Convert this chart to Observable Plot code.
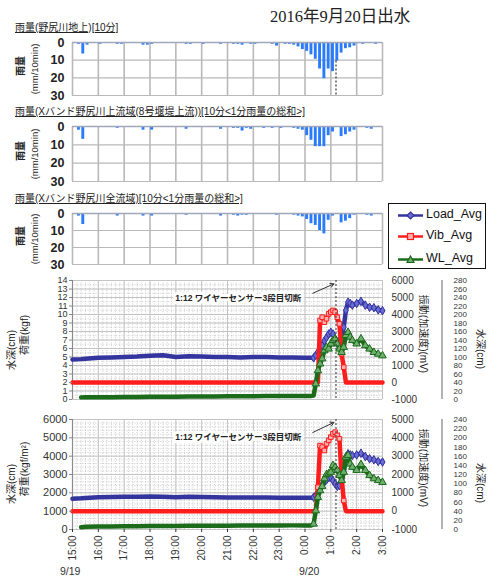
<!DOCTYPE html>
<html><head><meta charset="utf-8">
<script src="https://cdn.jsdelivr.net/npm/d3@7"></script>
<script src="https://cdn.jsdelivr.net/npm/@observablehq/plot@0.6"></script>
<style>
body{margin:0;background:#fff;}
#c{position:relative;width:497px;height:576px;overflow:hidden;background:#fff;font-family:"Liberation Sans","Noto Sans CJK JP",sans-serif;color:#222;}
.t{position:absolute;white-space:nowrap;line-height:1;}
.rl{position:absolute;white-space:nowrap;line-height:1;transform:translate(-50%,-50%) rotate(-90deg);}
.rr{position:absolute;white-space:nowrap;line-height:1;transform:translate(-50%,-50%) rotate(90deg);}
</style></head><body><div id="c"></div>
<script>
// ---------------- data ----------------
const mainTitle = "2016年9月20日出水";
const rainTitles = [
  "雨量(野尻川地上)[10分]",
  "雨量(Xバンド野尻川上流域(8号堰堤上流))[10分<1分雨量の総和>]",
  "雨量(Xバンド野尻川全流域)[10分<1分雨量の総和>]"
];
const rainAxisTitle = ["雨量", "(mm/10min)"];
const rainTicks = [0, 10, 20, 30];
// 10-minute rainfall, slots starting 15:00 (72 slots)
const rainGround = [
  0, 1, 6.5, 1.5, 0, 0, 1, 0, 0, 0, 1, 1,
  0, 0, 0, 0, 1.5, 1.5, 1, 0, 0, 0, 0, 0,
  0, 0, 1, 1, 0, 0, 1, 0, 0, 0, 1, 0,
  0, 1, 1, 1.5, 0, 1, 1, 0, 0, 0, 1, 2,
  0, 1, 1, 1.5, 2.5, 4, 5, 7, 9.5, 15, 20.5, 15,
  16.5, 10.5, 6, 3.5, 3, 2, 0, 1, 0, 0, 1, 0
];
const rainUpper = [
  0, 2, 7, 0.5, 0.5, 0.5, 0.5, 0.5, 0, 0, 1, 0,
  0.5, 0, 0, 0, 2, 0.5, 2, 0, 0, 0, 0.5, 0,
  0.5, 0, 1.5, 0.5, 0.5, 0.5, 0.5, 0.5, 0, 0, 1.5, 0.5,
  0.5, 1, 1, 2.5, 1, 1.5, 0.5, 0.5, 1, 0.5, 1, 0.5,
  1, 0.5, 0.5, 1, 1.5, 2, 5, 7.5, 11, 11, 11, 5,
  3, 0.5, 5.5, 4.5, 3, 2, 0.5, 0.5, 1, 1.5, 0.5, 0
];
const rainWhole = [
  0, 1.5, 6.5, 0.3, 0.3, 0.3, 0.3, 0, 0, 0, 1.5, 0,
  0, 0, 0, 0.5, 1.5, 0, 1.5, 0, 0.3, 0, 0, 0,
  0, 0, 1, 0.3, 0.3, 0.3, 0, 0, 0, 0, 1.5, 0.3,
  0.5, 1, 1.5, 1, 1, 0.5, 0.5, 0.5, 0.5, 0.5, 0.5, 1,
  0.5, 0.5, 0.5, 1, 1.5, 2, 3.5, 6, 7, 10, 12, 4,
  1.5, 0.5, 5.5, 4.5, 3, 1, 0.5, 0.5, 1, 1.5, 0.5, 0
];

const hourLabels = ["15:00","16:00","17:00","18:00","19:00","20:00","21:00","22:00","23:00","0:00","1:00","2:00","3:00"];
const dateLabels = ["9/19", "9/20"];
const times = ["15:00","15:20","15:30","16:00","16:30","17:00","17:30","18:00","18:30","19:00","19:30","20:00","20:30","21:00","21:30","22:00","22:30","23:00","23:30","0:00","0:15",
  "0:20","0:25","0:30","0:35","0:40","0:45","0:50","0:55","1:00","1:05","1:10","1:15","1:20","1:25","1:30","1:35","1:40","1:45","1:50",
  "2:00","2:10","2:20","2:30","2:40","2:50","3:00"];

// panel A: load (kgf), vibration (mV), water level (cm)
const loadA = [4.7, 4.75, 4.8, 4.9, 4.95, 5.0, 5.05, 5.15, 5.2, 5.0, 5.1, 5.05, 5.0, 5.0, 4.95, 5.0, 5.0, 4.95, 4.95, 4.9, 4.9,
  4.9, 5.2, 5.6, 5.8, 6.35, 6.9, 7.3, 7.7, 7.9, 7.7, 7.1, 6.75, 6.9, 7.3, 8.5, 10.5, 11.45, 11.3, 11.1,
  11.3, 11.55, 11.1, 10.85, 10.8, 10.55, 10.45];
const vibA = [0,0,0,0,0,0,0,0,0,0,0,0,0,0,0,0,0,0,0,0,0,
  0, 0, 0, 3650, 3840, 3550, 3750, 4040, 4140, 4240, 4140, 3840, 3450, 1690, 900, 0, 0, 0, 0,
  0,0,0,0,0,0,0];
const wlA = [null, 5, 5.5, 5.5, 5.5, 6, 6, 6.5, 6.5, 6.5, 7, 7, 7, 7.5, 7.5, 7.5, 8, 8, 8, 8, 8.5,
  9.4, 37, 68, 84, 96, 115, 123, 119, 131, 139, 143, 131, 119, 111, 123, 151, 158, 147, 139,
  131, 143, 127, 119, 111, 107, 103];
// panel B: load (kgf/m2), vibration (mV), water level (cm)
const loadB = [1675, 1700, 1720, 1760, 1770, 1780, 1790, 1800, 1790, 1760, 1780, 1770, 1760, 1750, 1750, 1740, 1740, 1730, 1730, 1730, 1730,
  1760, 1850, 2030, 2220, 2450, 2580, 2710, 2820, 2850, 2670, 2490, 2350, 2400, 2580, 3130, 3950, 4130, 4070, 4040,
  4070, 4160, 3980, 3860, 3800, 3710, 3680];
const vibB = [0,0,0,0,0,0,0,0,0,0,0,0,0,0,0,0,0,0,0,0,0,
  0, 0, 1310, 3580, 3490, 3310, 3680, 3860, 4040, 4220, 4310, 4130, 3950, 1850, 580, 0, 0, 0, 0,
  0,0,0,0,0,0,0];
const wlB = [null, 5, 6, 6.5, 6.5, 7, 7, 7.5, 7.5, 7.5, 8, 8, 8, 8, 8.5, 8.5, 8.5, 8.5, 9, 9, 9,
  12, 41, 70, 85, 94, 111, 120, 122, 125, 140, 136, 129, 118, 107, 125, 158, 162, 143, 136,
  129, 142, 129, 118, 111, 107, 103];

const leftTicksA = d3.range(0, 15, 1);
const mvTicksA = [-1000, 0, 1000, 2000, 3000, 4000, 5000, 6000];
const cmTicksA = d3.range(0, 281, 20);
const leftTicksB = [0, 1000, 2000, 3000, 4000, 5000, 6000];
const mvTicksB = [-1000, 0, 1000, 2000, 3000, 4000, 5000];
const cmTicksB = d3.range(0, 241, 20);

const seriesNames = ["Load_Avg", "Vib_Avg", "WL_Avg"];
const cutTime = "1:12";
const cutNote = "1:12 ワイヤーセンサー3段目切断";
const noteTime = "21:25";
const noteYA = 11.9, noteYB = 5020;
const arrowTimes = ["0:18", "1:07"];
const arrowYA = [12.5, 13.6], arrowYB = [5290, 5840];
const eventStart = "0:20";
const axisTitlesA = ["水深(cm)", "荷重(kgf)", "振動(加速度)(mV)", "水深(cm)"];
const axisTitlesB = ["水深(cm)", "荷重(kgf/m²)", "振動(加速度)(mV)", "水深(cm)"];

// ---------------- helpers ----------------
const FONT = '"Liberation Sans","Noto Sans CJK JP",sans-serif';
const BLUE = "#34349e", RED = "#ff1c1c", GREEN = "#1b6b1b";
const T = s => { const [h, m] = s.split(":").map(Number); return new Date(Date.UTC(2016, 8, h >= 15 ? 19 : 20, h, m)); };
const hourDates = hourLabels.map(T);
const T0 = hourDates[0], T3 = hourDates[hourDates.length - 1];
const tenMin = d3.utcMinute.every(10).range(T0, T3);
const cut = T(cutTime);
const evT = T(eventStart);
const W = 497, ML = 72, MR = 115;
const C = document.getElementById("c");

function txt(cls, s, x, y, style) {
  const d = document.createElement("div");
  d.className = cls; d.textContent = s;
  d.style.left = x + "px"; d.style.top = y + "px";
  Object.assign(d.style, style || {});
  C.appendChild(d); return d;
}
function put(svg, top) {
  svg.style.position = "absolute"; svg.style.left = "0px"; svg.style.top = top + "px";
  C.appendChild(svg);
}

// ---------------- titles ----------------
txt("t", mainTitle, 270, 9, {fontFamily: '"Liberation Serif","DejaVu Serif","Noto Sans CJK JP",serif', fontSize: "16.5px", color: "#222"});

// ---------------- rain panels ----------------
function rainPanel(values, title, top, h, withCut) {
  const rows = values.map((v, i) => ({a: new Date(+T0 + i * 6e5), b: new Date(+T0 + (i + 1) * 6e5), v}));
  const marks = [
    Plot.ruleY(rainTicks.slice(1), {stroke: "#b9b9b9", strokeWidth: 1.2}),
    Plot.ruleX(hourDates, {stroke: "#b9b9b9", strokeWidth: 1.6}),
    Plot.rectY(rows.filter(d => d.v > 0), {x1: "a", x2: "b", y: "v", fill: "#2a7bff", insetLeft: 0.7, insetRight: 0.7}),
    Plot.ruleY([0], {stroke: "#9fa8bb", strokeWidth: 1.5}),
    Plot.axisY({ticks: rainTicks, tickSize: 0, tickPadding: 8, fontSize: 12.5, fontWeight: "bold", label: null})
  ];
  if (withCut) {
    const idx = Math.floor((cut - T0) / 6e5);
    marks.push(Plot.ruleX([cut], {y1: values[idx], y2: rainTicks[rainTicks.length - 1], stroke: "#333", strokeDasharray: "2,2", strokeWidth: 1.2}));
  }
  const svg = Plot.plot({
    width: W, height: h + 14, marginTop: 7, marginBottom: 7, marginLeft: ML, marginRight: MR,
    style: {background: "transparent", fontFamily: FONT, color: "#222", overflow: "visible"},
    x: {type: "utc", domain: [T0, T3], axis: null},
    y: {domain: [0, 30], reverse: true, axis: null},
    marks
  });
  put(svg, top - 7);
  txt("t", title, 15, top - 19, {fontSize: "10px", textDecoration: "underline", color: "#222"});
  const cy = top + h / 2;
  txt("rl", rainAxisTitle[0], 21, cy - 3, {fontSize: "10px", fontWeight: "bold"});
  txt("rl", rainAxisTitle[1], 35, cy, {fontSize: "9.5px"});
}
rainPanel(rainGround, rainTitles[0], 42, 53, true);
rainPanel(rainUpper, rainTitles[1], 126, 55, false);
rainPanel(rainWhole, rainTitles[2], 213, 51, false);

// ---------------- legend ----------------
(function legend() {
  const box = document.createElement("div");
  Object.assign(box.style, {position: "absolute", left: "388px", top: "203px", width: "96px", height: "64px", border: "1.6px solid #111", background: "#fff"});
  C.appendChild(box);
  const cols = [BLUE, RED, GREEN];
  const fills = ["#6b6bd6", "#ffb0b0", "#6fae6f"];
  const ys = [11, 32, 55];
  const shapes = [
    (c, f) => `<polygon points="12.5,2 16,5.5 12.5,9 9,5.5" fill="${f}" stroke="${c}" stroke-width="1.2"/>`,
    (c, f) => `<rect x="9.5" y="2.5" width="6" height="6" fill="${f}" stroke="${c}" stroke-width="1.2"/>`,
    (c, f) => `<polygon points="12.5,2 16,8.5 9,8.5" fill="${f}" stroke="${c}" stroke-width="1.2"/>`
  ];
  seriesNames.forEach((n, i) => {
    const s = document.createElementNS("http://www.w3.org/2000/svg", "svg");
    s.setAttribute("width", 26); s.setAttribute("height", 11);
    s.innerHTML = `<line x1="0" x2="25" y1="5.5" y2="5.5" stroke="${cols[i]}" stroke-width="2.5"/>` + shapes[i](cols[i], fills[i]);
    Object.assign(s.style, {position: "absolute", left: "9px", top: (ys[i] - 5.5) + "px"});
    box.appendChild(s);
    const t = document.createElement("div");
    t.textContent = n;
    Object.assign(t.style, {position: "absolute", left: "37px", top: (ys[i] - 7) + "px", fontSize: "12.5px", lineHeight: "1", whiteSpace: "nowrap", color: "#111"});
    box.appendChild(t);
  });
})();

// ---------------- measurement panels ----------------
function measurePanel(o) {
  const rows = times.map((s, i) => ({t: T(s), load: o.load[i], vib: o.vib[i], wl: o.wl[i]}));
  const ev = rows.filter(d => d.t >= evT);
  const yLoad = d => d.load, yVib = d => o.vibToY(d.vib), yWl = d => d.wl == null ? NaN : o.cmToY(d.wl);
  const minor = d3.range(o.yDomain[0], o.yDomain[1] + 1e-9, o.minorStep);
  const marks = [
    Plot.ruleY(minor, {stroke: "#bdbdbd", strokeDasharray: "1,1.6", strokeWidth: 0.8}),
    Plot.ruleX(tenMin, {stroke: "#bdbdbd", strokeDasharray: "1,1.6", strokeWidth: 0.8}),
    Plot.ruleY(o.leftTicks, {stroke: "#c4c4c4", strokeWidth: 1}),
    Plot.ruleX(hourDates, {stroke: "#c4c4c4", strokeWidth: 1}),
    Plot.ruleX([T0], {stroke: "#8a8a8a", strokeWidth: 1.2}),
    Plot.line(rows, {x: "t", y: yLoad, stroke: BLUE, strokeWidth: 4.5}),
    Plot.dot(ev, {x: "t", y: yLoad, symbol: "diamond", r: 2.6, stroke: BLUE, fill: "#6b6bd6", strokeWidth: 1}),
    Plot.line(rows, {x: "t", y: yVib, stroke: RED, strokeWidth: 4.5}),
    Plot.dot(ev.filter(d => d.vib > 0), {x: "t", y: yVib, symbol: "square", r: 2.6, stroke: RED, fill: "#ffb0b0", strokeWidth: 1}),
    Plot.line(rows, {x: "t", y: yWl, stroke: GREEN, strokeWidth: 4.5}),
    Plot.dot(ev.filter(d => d.wl > 10), {x: "t", y: yWl, symbol: "triangle", r: 2.8, stroke: GREEN, fill: "#6fae6f", strokeWidth: 1}),
    Plot.ruleX([cut], {stroke: "#333", strokeDasharray: "2,2", strokeWidth: 1}),
    Plot.arrow([0], {x1: () => T(arrowTimes[0]), y1: () => o.arrowY[0], x2: () => T(arrowTimes[1]), y2: () => o.arrowY[1], stroke: "#333", strokeWidth: 1, headLength: 6}),
    Plot.text([cutNote], {x: () => T(noteTime), y: () => o.noteY, text: d => d, fontSize: 8.5, fontWeight: "bold", fill: "#222", stroke: "white", strokeWidth: 6}),
    Plot.axisY({ticks: o.leftTicks, tickFormat: d => String(d), tickSize: 3, tickPadding: 2, fontSize: o.leftFont, label: null, stroke: "#888"}),
    Plot.text(o.mvTicks, {y: d => o.vibToY(d), text: d => String(d), frameAnchor: "right", dx: 9, textAnchor: "start", fontSize: 10, fill: "#333"}),
    Plot.text(o.cmTicks, {y: d => o.cmToY(d), text: d => String(d), frameAnchor: "right", dx: 71, textAnchor: "start", fontSize: 8, fill: "#333"})
  ];
  if (o.xAxis) {
    marks.push(Plot.axisX({ticks: hourDates, tickFormat: d => `${d.getUTCHours()}:00`, tickRotate: -90, tickSize: 3, tickPadding: 3, fontSize: 10, label: null}));
  }
  const svg = Plot.plot({
    width: W, height: o.h + 8 + o.mb, marginTop: 8, marginBottom: o.mb, marginLeft: ML, marginRight: MR,
    style: {background: "transparent", fontFamily: FONT, color: "#333", overflow: "visible"},
    x: {type: "utc", domain: [T0, T3], axis: null},
    y: {domain: o.yDomain, axis: null},
    marks
  });
  d3.select(svg).append("line")
    .attr("x1", W - MR + 60).attr("x2", W - MR + 60)
    .attr("y1", 8).attr("y2", 8 + o.h)
    .attr("stroke", "#9a9a9a").attr("stroke-width", 1.5);
  put(svg, o.top - 8);
  const cy = o.top + o.h / 2;
  txt("rl", o.titles[0], 12, cy + 10, {fontSize: "10px"});
  txt("rl", o.titles[1], 25, cy - 5, {fontSize: "10px"});
  txt("rr", o.titles[2], 423, cy - 6, {fontSize: "10px"});
  txt("rr", o.titles[3], 480, cy + 9, {fontSize: "10px"});
}

measurePanel({top: 280, h: 119, mb: 8, yDomain: [0, 14], minorStep: 0.5, leftTicks: leftTicksA, leftFont: 9,
  load: loadA, vib: vibA, wl: wlA, vibToY: v => v / 500 + 2, cmToY: c => c / 20,
  mvTicks: mvTicksA, cmTicks: cmTicksA, noteY: noteYA, arrowY: arrowYA, titles: axisTitlesA, xAxis: false});
measurePanel({top: 419, h: 110, mb: 36, yDomain: [0, 6000], minorStep: 200, leftTicks: leftTicksB, leftFont: 11,
  load: loadB, vib: vibB, wl: wlB, vibToY: v => v + 1000, cmToY: c => c * 25,
  mvTicks: mvTicksB, cmTicks: cmTicksB, noteY: noteYB, arrowY: arrowYB, titles: axisTitlesB, xAxis: true});

txt("t", dateLabels[0], 60, 566, {fontSize: "10.5px", color: "#333"});
txt("t", dateLabels[1], 299, 566, {fontSize: "10.5px", color: "#333"});
</script></body></html>
